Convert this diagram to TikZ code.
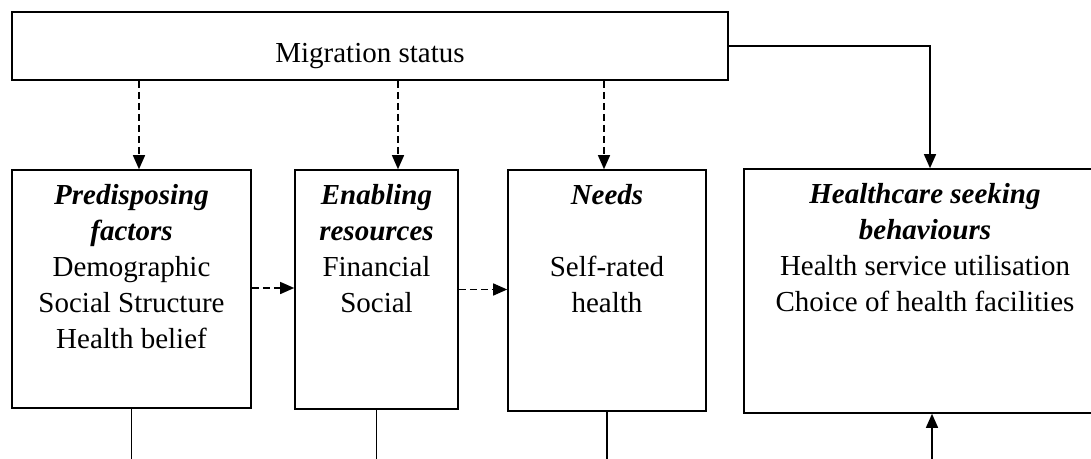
\documentclass[tikz,border=0pt]{standalone}
\usepackage{fontspec}
\setmainfont{Liberation Serif}
\usetikzlibrary{arrows.meta,positioning}

\begin{document}
\begin{tikzpicture}[x=1pt,y=-1pt,
  hsbbox/.style={draw,line width=1.6pt,inner sep=0pt},
  hsbtext/.style={align=center,inner sep=0pt,font=\fontsize{29}{36}\selectfont},
  hsbarr/.style={-{Triangle[length=14pt,width=12pt]},line width=1.4pt},
  hsbdash/.style={hsbarr,dash pattern=on 7pt off 4pt},
  hsbline/.style={line width=1.4pt}
]
  \useasboundingbox (0,0) rectangle (1091,458);
  \clip (0,0) rectangle (1091,458);

  % Migration status
  \node[hsbbox,minimum width=716pt,minimum height=68pt] (mig) at (370,46) {};
  \node[hsbtext,below=32pt of mig.north] (migtext) {Migration status};

  % Predisposing factors
  \node[hsbbox,minimum width=239pt,minimum height=238pt] (pre) at (131.5,289) {};
  \node[hsbtext,below=15pt of pre.north] (pretext) {
    \textbf{\textit{Predisposing}}\\
    \textbf{\textit{factors}}\\
    Demographic\\
    Social Structure\\
    Health belief};

  % Enabling resources
  \node[hsbbox,minimum width=163pt,minimum height=239pt] (ena) at (376.5,289.5) {};
  \node[hsbtext,below=15pt of ena.north] (enatext) {
    \textbf{\textit{Enabling}}\\
    \textbf{\textit{resources}}\\
    Financial\\
    Social};

  % Needs
  \node[hsbbox,minimum width=198pt,minimum height=241pt] (need) at (607,290.5) {};
  \node[hsbtext,below=15pt of need.north] (needtext) {
    \textbf{\textit{Needs}}\\[36pt]
    Self-rated\\
    health};

  % Healthcare seeking behaviours (runs off the right edge)
  \node[hsbbox,minimum width=362pt,minimum height=244pt] (hsb) at (925,291) {};
  \node[hsbtext,below=15pt of hsb.north] (hsbtext) {
    \textbf{\textit{Healthcare seeking}}\\
    \textbf{\textit{behaviours}}\\
    Health service utilisation\\
    Choice of health facilities};

  % Arrow ports
  \coordinate (preport) at ([xshift=7.5pt]pre.north);
  \coordinate (enaport) at ([xshift=21.5pt]ena.north);
  \coordinate (needport) at ([xshift=-3pt]need.north);
  \coordinate (hsbport) at ([xshift=7pt]hsb.south);
  \coordinate (bottom) at (0,470);

  % Dashed links from migration status
  \draw[hsbdash] (preport |- mig.south) -- (preport);
  \draw[hsbdash] (enaport |- mig.south) -- (enaport);
  \draw[hsbdash] (needport |- mig.south) -- (needport);
  \draw[hsbarr] (mig.east) -| ([xshift=5pt]hsb.north);

  % Dashed links between the boxes
  \draw[hsbdash] ([yshift=1pt]pre.east) -- ([yshift=1pt]pre.east -| ena.west);
  \draw[hsbdash] (ena.east) -- (ena.east -| need.west);

  % Lines leaving the bottom
  \draw[hsbline] (pre.south) -- (pre.south |- bottom);
  \draw[hsbline] (ena.south) -- (ena.south |- bottom);
  \draw[hsbline] (need.south) -- (need.south |- bottom);
  \draw[hsbarr] (hsbport |- bottom) -- (hsbport);
\end{tikzpicture}
\end{document}
